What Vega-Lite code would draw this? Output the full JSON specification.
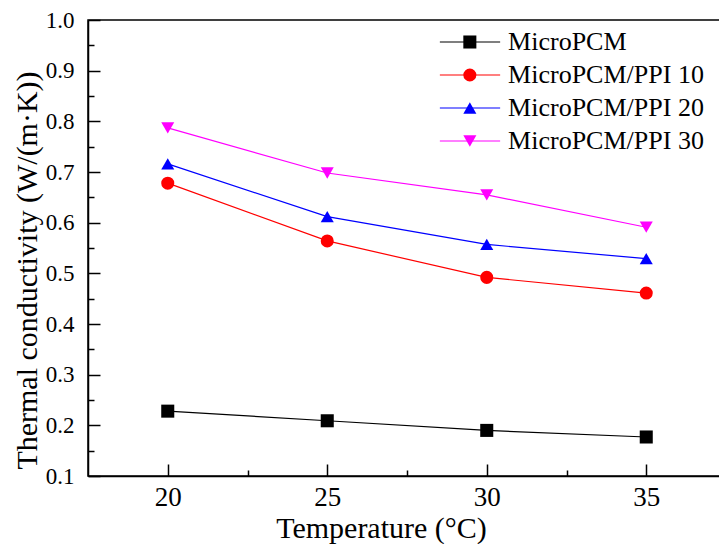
{
  "$schema": "https://vega.github.io/schema/vega-lite/v6.json",
  "width": 638,
  "height": 456,
  "autosize": "none",
  "padding": {"left": 88, "top": 20, "right": 0, "bottom": 68},
  "background": "white",
  "config": {
    "view": {"stroke": "black", "strokeWidth": 1.5},
    "font": "Liberation Serif",
    "axis": {
      "grid": false,
      "domainColor": "black",
      "domainWidth": 1.5,
      "tickColor": "black",
      "tickWidth": 1.5,
      "labelColor": "black",
      "labelFont": "Liberation Serif",
      "titleFont": "Liberation Serif",
      "titleColor": "black",
      "titleFontWeight": "normal",
      "titleFontSize": 30
    }
  },
  "datasets": {
    "measurements": [
      {"temperature": 20, "conductivity": 0.228, "sample": "MicroPCM"},
      {"temperature": 25, "conductivity": 0.209, "sample": "MicroPCM"},
      {"temperature": 30, "conductivity": 0.19, "sample": "MicroPCM"},
      {"temperature": 35, "conductivity": 0.177, "sample": "MicroPCM"},
      {"temperature": 20, "conductivity": 0.678, "sample": "MicroPCM/PPI 10"},
      {"temperature": 25, "conductivity": 0.564, "sample": "MicroPCM/PPI 10"},
      {"temperature": 30, "conductivity": 0.492, "sample": "MicroPCM/PPI 10"},
      {"temperature": 35, "conductivity": 0.461, "sample": "MicroPCM/PPI 10"},
      {"temperature": 20, "conductivity": 0.716, "sample": "MicroPCM/PPI 20"},
      {"temperature": 25, "conductivity": 0.612, "sample": "MicroPCM/PPI 20"},
      {"temperature": 30, "conductivity": 0.557, "sample": "MicroPCM/PPI 20"},
      {"temperature": 35, "conductivity": 0.529, "sample": "MicroPCM/PPI 20"},
      {"temperature": 20, "conductivity": 0.787, "sample": "MicroPCM/PPI 30"},
      {"temperature": 25, "conductivity": 0.698, "sample": "MicroPCM/PPI 30"},
      {"temperature": 30, "conductivity": 0.655, "sample": "MicroPCM/PPI 30"},
      {"temperature": 35, "conductivity": 0.591, "sample": "MicroPCM/PPI 30"}
    ],
    "samples": [
      {"sample": "MicroPCM"},
      {"sample": "MicroPCM/PPI 10"},
      {"sample": "MicroPCM/PPI 20"},
      {"sample": "MicroPCM/PPI 30"}
    ]
  },
  "resolve": {
    "scale": {"y": "independent"},
    "axis": {"x": "independent", "y": "independent"}
  },
  "layer": [
    {
      "data": {"name": "measurements"},
      "mark": {"type": "line", "strokeWidth": 1.2},
      "encoding": {
        "x": {
          "field": "temperature",
          "type": "quantitative",
          "scale": {"domain": [17.5, 37.5], "nice": false, "zero": false},
          "axis": {
            "orient": "bottom",
            "title": "Temperature (°C)",
            "values": [20, 25, 30, 35],
            "tickSize": -12,
            "labelFont": "Liberation Serif",
            "labelFontSize": 27,
            "labelPadding": 20,
            "titleX": 293,
            "titleY": 61,
            "titleAlign": "center",
            "titleBaseline": "alphabetic"
          }
        },
        "y": {
          "field": "conductivity",
          "type": "quantitative",
          "scale": {"domain": [0.1, 1.0], "nice": false, "zero": false},
          "axis": {
            "orient": "left",
            "title": "Thermal conductivity (W/(m·K))",
            "values": [0.1, 0.2, 0.3, 0.4, 0.5, 0.6, 0.7, 0.8, 0.9, 1.0],
            "format": ".1f",
            "tickSize": -12,
            "labelFont": "Liberation Serif",
            "labelFontSize": 23,
            "labelPadding": 26,
            "titleX": -52,
            "titleY": 250,
            "titleAngle": -90,
            "titleAlign": "center",
            "titleBaseline": "alphabetic"
          }
        },
        "color": {
          "field": "sample",
          "type": "nominal",
          "scale": {
            "domain": ["MicroPCM", "MicroPCM/PPI 10", "MicroPCM/PPI 20", "MicroPCM/PPI 30"],
            "range": ["#000000", "#ff0000", "#0000ff", "#ff00ff"]
          },
          "legend": null
        }
      }
    },
    {
      "data": {"name": "measurements"},
      "mark": {"type": "point", "filled": true, "opacity": 1, "size": 170},
      "encoding": {
        "x": {
          "field": "temperature",
          "type": "quantitative",
          "axis": {
            "orient": "bottom",
            "title": null,
            "values": [22.5, 27.5, 32.5],
            "tickSize": -6,
            "labels": false,
            "domain": false
          }
        },
        "y": {
          "field": "conductivity",
          "type": "quantitative",
          "scale": {"domain": [0.1, 1.0], "nice": false, "zero": false},
          "axis": {
            "orient": "left",
            "title": null,
            "values": [0.15, 0.25, 0.35, 0.45, 0.55, 0.65, 0.75, 0.85, 0.95],
            "tickSize": -6,
            "labels": false,
            "domain": false
          }
        },
        "color": {"field": "sample", "type": "nominal", "legend": null},
        "shape": {
          "field": "sample",
          "type": "nominal",
          "scale": {
            "domain": ["MicroPCM", "MicroPCM/PPI 10", "MicroPCM/PPI 20", "MicroPCM/PPI 30"],
            "range": ["square", "circle", "triangle-up", "triangle-down"]
          },
          "legend": null
        }
      }
    },
    {
      "data": {"name": "samples"},
      "encoding": {
        "y": {
          "field": "sample",
          "type": "nominal",
          "sort": null,
          "scale": {"type": "point", "range": [22, 121], "padding": 0},
          "axis": null
        }
      },
      "layer": [
        {
          "mark": {"type": "rule", "strokeWidth": 1.2},
          "encoding": {
            "x": {"datum": 28.53, "type": "quantitative", "axis": null},
            "x2": {"datum": 30.42},
            "color": {"field": "sample", "type": "nominal", "legend": null}
          }
        },
        {
          "mark": {"type": "point", "filled": true, "opacity": 1, "size": 170},
          "encoding": {
            "x": {"datum": 29.47, "type": "quantitative", "axis": null},
            "color": {"field": "sample", "type": "nominal", "legend": null},
            "shape": {"field": "sample", "type": "nominal", "legend": null}
          }
        },
        {
          "mark": {
            "type": "text",
            "align": "left",
            "baseline": "middle",
            "font": "Liberation Serif",
            "fontSize": 26,
            "color": "black"
          },
          "encoding": {
            "x": {"datum": 30.67, "type": "quantitative", "axis": null},
            "text": {"field": "sample", "type": "nominal"}
          }
        }
      ]
    }
  ]
}
